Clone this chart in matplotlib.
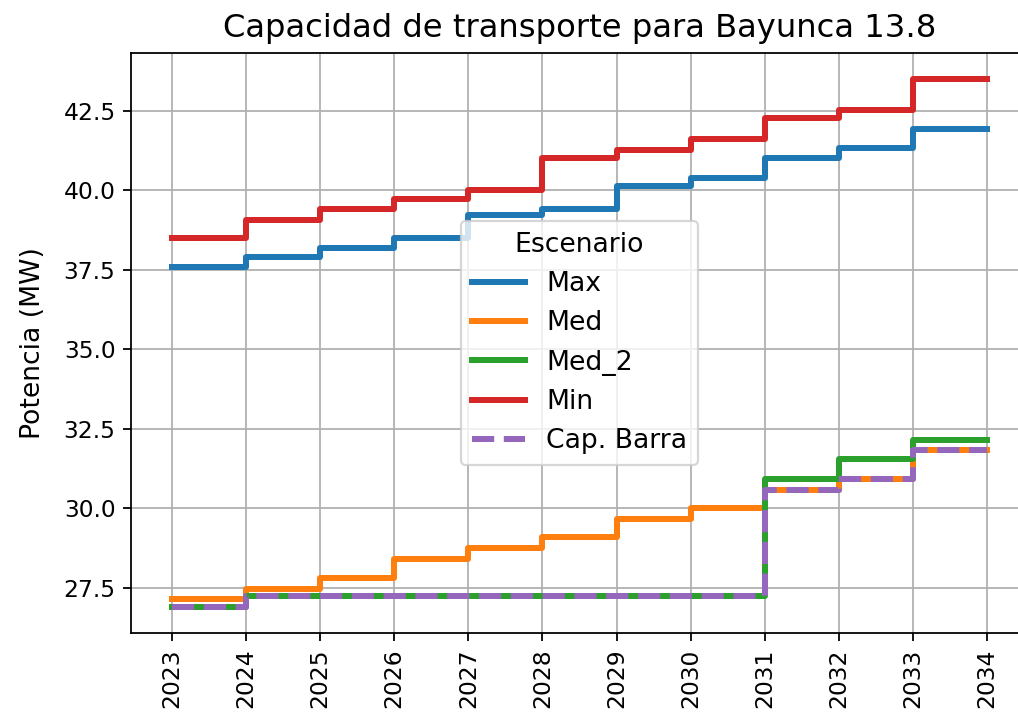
import matplotlib
matplotlib.use('Agg')

import matplotlib.pyplot as plt
import matplotlib.dates as mdates
import pandas as pd

# datos
years = list(range(2023, 2035))
cap_max = [37.58, 37.89, 38.18, 38.49, 39.22, 39.41, 40.13, 40.39, 41.01, 41.32, 41.92, 41.92]
cap_med = [27.16, 27.48, 27.81, 28.41, 28.75, 29.09, 29.67, 30.00, 30.59, 30.92, 31.83, 31.83]
cap_med2 = [26.91, 27.24, 27.24, 27.24, 27.24, 27.24, 27.24, 27.24, 30.91, 31.56, 32.16, 32.16]
cap_min = [38.49, 39.08, 39.40, 39.74, 40.00, 41.02, 41.27, 41.60, 42.26, 42.52, 43.49, 43.49]
cap_barra = [26.91, 27.24, 27.24, 27.24, 27.24, 27.24, 27.24, 27.24, 30.59, 30.92, 31.83, 31.83]

fechas = pd.to_datetime([str(y) + "-01-01" for y in years])

fig = plt.figure(figsize=(1018 / 160, 721 / 160), dpi=160)
# el borde derecho queda fuera de la imagen (recortada en el original)
ax = fig.add_axes([131 / 1018, 1 - 633 / 721, 897 / 1018, 580 / 721])

lw = 2.7
ax.plot(fechas, cap_max, drawstyle='steps-post', color='#1f77b4', lw=lw, label='Max')
ax.plot(fechas, cap_med, drawstyle='steps-post', color='#ff7f0e', lw=lw, label='Med')
ax.plot(fechas, cap_med2, drawstyle='steps-post', color='#2ca02c', lw=lw, label='Med_2')
ax.plot(fechas, cap_min, drawstyle='steps-post', color='#d62728', lw=lw, label='Min')
ax.plot(fechas, cap_barra, drawstyle='steps-post', color='#9467bd', lw=lw, ls='--', label='Cap. Barra')

ax.set_xticks(fechas)
ax.xaxis.set_major_formatter(mdates.DateFormatter('%Y'))
ax.tick_params(labelsize=10.5)
plt.setp(ax.get_xticklabels(), rotation=90)
ax.grid(True)
ax.set_ylabel('Potencia (MW)', fontsize=12, labelpad=8)
ax.set_title('Capacidad de transporte para Bayunca 13.8', fontsize=14.5, pad=7)
leg = ax.legend(title='Escenario', loc='center', fontsize=12, title_fontsize=12)

fig.savefig('out.png', dpi=160)
plt.close('all')
